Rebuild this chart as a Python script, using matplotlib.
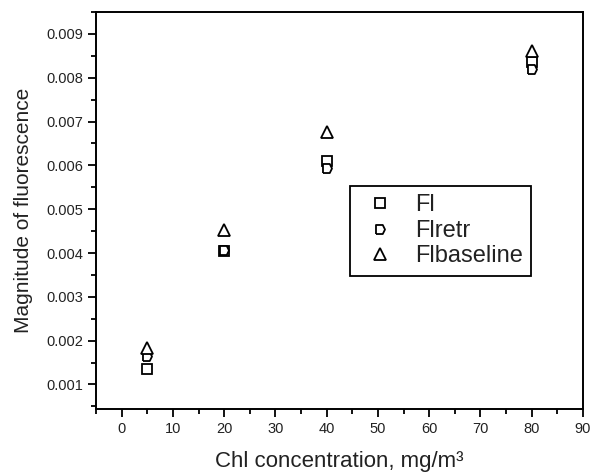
import numpy as np
import matplotlib
matplotlib.use('Agg')
from matplotlib import pyplot as plt
from matplotlib.ticker import MultipleLocator, FormatStrFormatter

plt.rcParams['font.family'] = ['Liberation Sans', 'DejaVu Sans']

# chlorophyll concentration, mg/m^3
chl = [5, 20, 40, 80]
# fluorescence magnitude for each method
fl = [0.00135, 0.00404, 0.00609, 0.00835]
fl_retr = [0.00164, 0.00406, 0.00595, 0.00820]
fl_baseline = [0.00183, 0.00453, 0.00676, 0.00862]
labels = ['Fl', 'Flretr', 'Flbaseline']

# home-plate shaped marker for the retrieved series
retr_marker = [(-1, -1), (-1, 1), (0.5, 1), (1, 0), (0.5, -1), (-1, -1)]

fig = plt.figure(figsize=(5.92, 4.73), dpi=100)
ax = fig.add_axes([0.1622, 0.1353, 0.8226, 0.8393])

mk = dict(linestyle='none', markerfacecolor='white', markeredgecolor='black',
          markeredgewidth=1.3)
ax.plot(chl, fl, marker='s', markersize=6.5, label=labels[0], **mk)
ax.plot(chl, fl_retr, marker=retr_marker, markersize=6.5, label=labels[1], **mk)
ax.plot(chl, fl_baseline, marker='^', markersize=8, label=labels[2], **mk)

ax.set_xlim(-5, 90)
ax.set_ylim(0.00044, 0.0095)
ax.xaxis.set_major_locator(MultipleLocator(10))
ax.xaxis.set_minor_locator(MultipleLocator(5))
ax.yaxis.set_major_locator(MultipleLocator(0.001))
ax.yaxis.set_minor_locator(MultipleLocator(0.0005))
ax.yaxis.set_major_formatter(FormatStrFormatter('%.3f'))

for s in ax.spines.values():
    s.set_linewidth(1.4)
ax.tick_params(which='major', direction='out', length=6, width=1.3,
               labelsize=10.5, top=False, right=False, colors='black',
               labelcolor='#222222')
ax.tick_params(which='minor', direction='out', length=3.5, width=1.3,
               top=False, right=False)

ax.set_xlabel('Chl concentration, mg/m\u00b3', fontsize=16, color='#222222',
              labelpad=11)
ax.set_ylabel('Magnitude of fluorescence', fontsize=15, color='#222222',
              labelpad=9)

leg = ax.legend(loc='upper left', bbox_to_anchor=(0.5216, 0.5617),
                borderaxespad=0, fancybox=False, edgecolor='black',
                fontsize=17, borderpad=0.35, handlelength=1.8,
                handletextpad=0.6, labelspacing=0.15, framealpha=1)
leg.get_frame().set_linewidth(1.3)
for t in leg.get_texts():
    t.set_color('#222222')

fig.savefig('out.png', dpi=100)
